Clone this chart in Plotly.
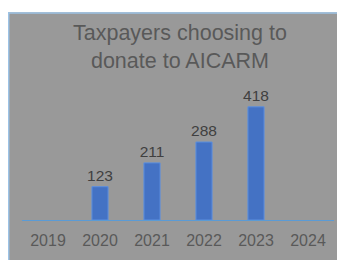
import plotly.graph_objects as go

years = ["2019", "2020", "2021", "2022", "2023", "2024"]
taxpayers = [None, 123, 211, 288, 418, None]
labels = ["", "123", "211", "288", "418", ""]
title_text = "Taxpayers choosing to<br>donate to AICARM"

# figure sits at an 8px page offset
W, H = 337, 252
ml, mr, mt, mb = 14, 11, 78, 34
pw = W - ml - mr
ph = H - mt - mb

def px_x(x):
    return (x - ml) / pw

def px_y(y):
    return (H - mb - y) / ph

fig = go.Figure()
fig.add_trace(go.Bar(
    x=years, y=taxpayers, text=labels, textposition="outside",
    constraintext="none",
    textfont=dict(family="Liberation Sans, Arial", size=15.5, color="#404040"),
    marker=dict(color="#4472C4", line=dict(color="#5B8FE0", width=1)),
    width=0.31, cliponaxis=False,
))

fig.add_shape(type="rect", xref="paper", yref="paper",
              x0=px_x(0), x1=px_x(W + 10), y0=px_y(1), y1=px_y(H + 10),
              fillcolor="#999999", line=dict(width=0), layer="below")
fig.add_shape(type="line", xref="paper", yref="paper",
              x0=px_x(0.7), x1=px_x(0.7), y0=px_y(1), y1=px_y(H + 10),
              line=dict(color="#9DC3E6", width=1.5), layer="below")
fig.add_shape(type="line", xref="paper", yref="paper",
              x0=px_x(0), x1=px_x(W + 10), y0=px_y(1.7), y1=px_y(1.7),
              line=dict(color="#9DC3E6", width=1.5), layer="below")

fig.add_annotation(text=title_text, xref="paper", yref="paper",
                   x=px_x(172), y=px_y(37.5), xanchor="center", yanchor="middle",
                   showarrow=False,
                   font=dict(family="Liberation Sans, Arial", size=21.5, color="#595959"))

fig.update_layout(
    width=W, height=H,
    margin=dict(l=ml, r=mr, t=mt, b=mb),
    paper_bgcolor="white", plot_bgcolor="rgba(0,0,0,0)",
    showlegend=False,
    xaxis=dict(type="category", showline=True, linecolor="#5B9BD5", linewidth=1,
               showgrid=False, ticks="", zeroline=False, ticklabelstandoff=6,
               tickfont=dict(family="Liberation Sans, Arial", size=16, color="#595959")),
    yaxis=dict(range=[0, 495], visible=False, showgrid=False, zeroline=False),
)

fig.write_html("out.html")
